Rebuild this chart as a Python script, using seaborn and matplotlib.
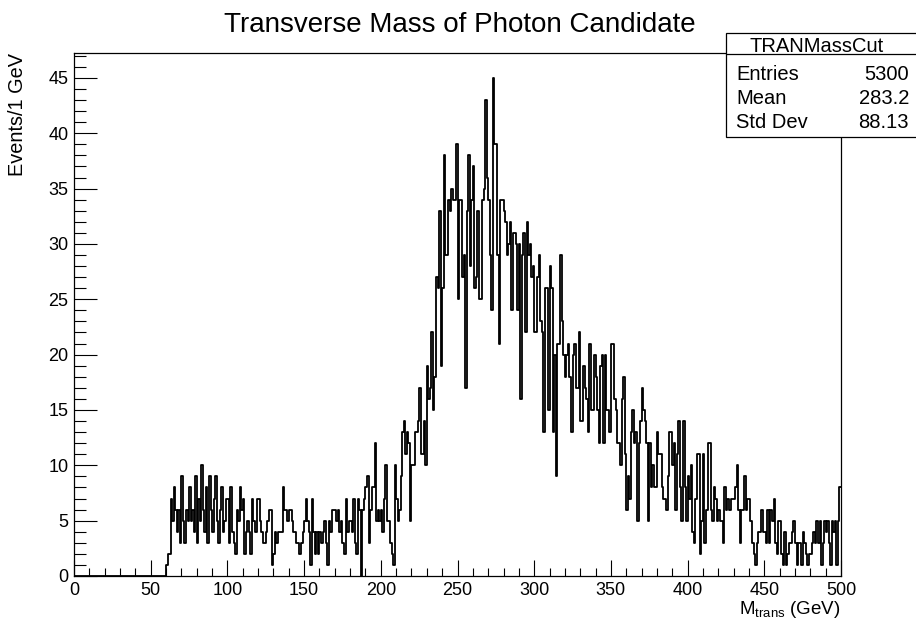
import numpy as np
import pandas as pd
import matplotlib
matplotlib.use("Agg")
import matplotlib.pyplot as plt
import seaborn as sns
from matplotlib.patches import Rectangle
from matplotlib.lines import Line2D
from matplotlib.ticker import MultipleLocator

# ---- data: events per 1 GeV bin (0..500 GeV); bins 0..59 are empty ----
x_min, x_max = 0, 500
first_filled_bin = 60
counts_060_099 = [1,2,2,7,5,8,6,4,6,3, 9,5,3,6,5,8,5,6,4,9, 3,7,5,10,6,4,8,3,9,6, 4,7,9,5,3,6,8,4,5,7]
counts_100_139 = [7,3,8,4,3,2,6,5,8,6, 7,2,4,5,4,2,7,5,4,7, 7,5,4,3,3,4,5,6,6,1, 2,4,3,4,4,4,8,6,6,5]
counts_140_179 = [6,6,5,4,4,3,3,2,3,4, 5,7,5,4,1,7,4,2,4,2, 4,3,4,5,3,1,5,4,6,6, 6,5,6,4,5,3,2,7,4,5]
counts_180_219 = [5,4,7,3,2,7,6,0,6,7, 8,9,3,6,8,8,12,5,6,5, 6,4,7,10,5,5,3,2,1,10, 7,5,6,9,13,14,11,13,12,5]
counts_220_259 = [10,10,13,13,14,17,11,11,14,10, 19,16,17,22,15,18,27,26,33,19, 26,38,29,29,34,33,35,34,34,39, 25,34,34,27,29,17,33,38,28,34]
counts_260_299 = [37,26,27,33,25,25,34,35,43,36, 34,29,24,45,39,39,29,21,34,34, 33,32,29,30,32,24,31,31,30,24, 30,16,29,31,22,32,29,30,27,28]
counts_300_339 = [22,22,27,29,23,22,13,26,26,15, 28,26,13,20,9,21,21,29,23,20, 18,20,21,18,13,20,21,17,17,22, 14,14,19,17,16,13,21,15,15,20]
counts_340_379 = [18,15,12,19,20,12,20,15,15,13, 21,21,16,15,12,12,10,16,18,11, 6,9,7,13,15,12,13,5,12,14, 17,15,14,12,5,12,8,10,8,8]
counts_380_419 = [13,11,11,8,7,7,6,9,13,13, 10,12,6,11,14,8,5,14,8,5, 9,7,10,4,3,7,11,11,2,5, 11,3,6,12,12,6,5,8,7,5]
counts_420_459 = [6,5,5,3,8,6,7,6,7,7, 7,8,10,6,3,6,6,9,6,7, 7,5,3,2,1,3,4,4,6,4, 4,3,6,3,6,5,7,3,2,5]
counts_460_499 = [5,2,1,4,1,2,3,3,4,5, 3,1,3,3,1,4,3,2,1,2, 2,3,4,3,5,3,5,1,3,5, 4,5,3,1,5,4,5,1,5,8]

stats_name = "TRANMassCut"
stats_labels = ["Entries", "Mean", "Std Dev"]
stats_values = ["5300", "283.2", "88.13"]
title = "Transverse Mass of Photon Candidate"
xlabel = r"M$_{\mathrm{trans}}$ (GeV)"
ylabel = "Events/1 GeV"

# ---- assemble ----
counts = np.concatenate([
    np.zeros(first_filled_bin),
    counts_060_099, counts_100_139, counts_140_179, counts_180_219,
    counts_220_259, counts_260_299, counts_300_339, counts_340_379,
    counts_380_419, counts_420_459, counts_460_499,
])
n_bins = len(counts)
centers = np.arange(n_bins) + 0.5
df = pd.DataFrame({"mass": centers, "events": counts})

sns.set_style("white")
plt.rcParams["font.family"] = ["Liberation Sans", "DejaVu Sans"]
plt.rcParams["mathtext.fontset"] = "custom"
plt.rcParams["mathtext.rm"] = "Liberation Sans"
plt.rcParams["mathtext.it"] = "Liberation Sans:italic"
plt.rcParams["text.color"] = "black"
plt.rcParams["xtick.color"] = "black"
plt.rcParams["ytick.color"] = "black"
plt.rcParams["xtick.labelcolor"] = "black"
plt.rcParams["ytick.labelcolor"] = "black"

W, H = 916, 632
AX_L, AX_R, AX_T, AX_B = 74, 841, 53, 576
fig = plt.figure(figsize=(W / 100, H / 100), dpi=100)
ax = fig.add_axes([AX_L / W, 1 - AX_B / H, (AX_R - AX_L) / W, (AX_B - AX_T) / H])

sns.histplot(data=df, x="mass", weights="events", bins=n_bins,
             binrange=(x_min, x_max), element="step",
             fill=False, color="black", linewidth=1.3, ax=ax)

ax.set_xlim(x_min, x_max)
ax.set_ylim(0, 47.25)
ax.xaxis.set_major_locator(MultipleLocator(50))
ax.xaxis.set_minor_locator(MultipleLocator(10))
ax.yaxis.set_major_locator(MultipleLocator(5))
ax.yaxis.set_minor_locator(MultipleLocator(1))
ax.tick_params(axis="x", which="major", direction="in", length=11.2, width=0.8,
               labelsize=13, pad=4, top=False, bottom=True, colors="black")
ax.tick_params(axis="x", which="minor", direction="in", length=5.6, width=0.8,
               top=False, bottom=True, colors="black")
ax.tick_params(axis="y", which="major", direction="in", length=16.5, width=0.8,
               labelsize=13, pad=4, right=False, left=True, colors="black")
ax.tick_params(axis="y", which="minor", direction="in", length=8.3, width=0.8,
               right=False, left=True, colors="black")
for s in ax.spines.values():
    s.set_linewidth(0.9)
    s.set_color("black")
    s.set_visible(True)
ax.set_xlabel("")
ax.set_ylabel("")

fig.text(AX_R / W, 1 - 609 / H, xlabel, ha="right", va="center", fontsize=13.5, color="black")
fig.text(18 / W, 1 - AX_T / H, ylabel, ha="center", va="top", rotation=90,
         fontsize=14.3, color="black")
fig.text(0.5 * (222 + 697) / W, 1 - 25 / H, title, ha="center", va="center",
         fontsize=20, color="black")

# stats box
bx0, bx1, by0, by1, hdr = 726, 918, 33, 137, 54
fig.add_artist(Rectangle((bx0 / W, 1 - by1 / H), (bx1 - bx0) / W, (by1 - by0) / H,
                         transform=fig.transFigure, facecolor="white",
                         edgecolor="black", linewidth=0.9, zorder=10))
fig.add_artist(Line2D([bx0 / W, bx1 / W], [1 - hdr / H, 1 - hdr / H],
                      transform=fig.transFigure, color="black", linewidth=0.9, zorder=11))
fig.text(817 / W, 1 - 52 / H, stats_name,
         ha="center", va="baseline", fontsize=14.5, zorder=12, color="black")
row_base = [80, 104, 128]
for lab, val, yb in zip(stats_labels, stats_values, row_base):
    fig.text(736 / W, 1 - yb / H, lab, ha="left", va="baseline", fontsize=14.5,
             zorder=12, color="black")
    fig.text(909 / W, 1 - yb / H, val, ha="right", va="baseline", fontsize=14.5,
             zorder=12, color="black")

fig.savefig("out.png", dpi=100)
